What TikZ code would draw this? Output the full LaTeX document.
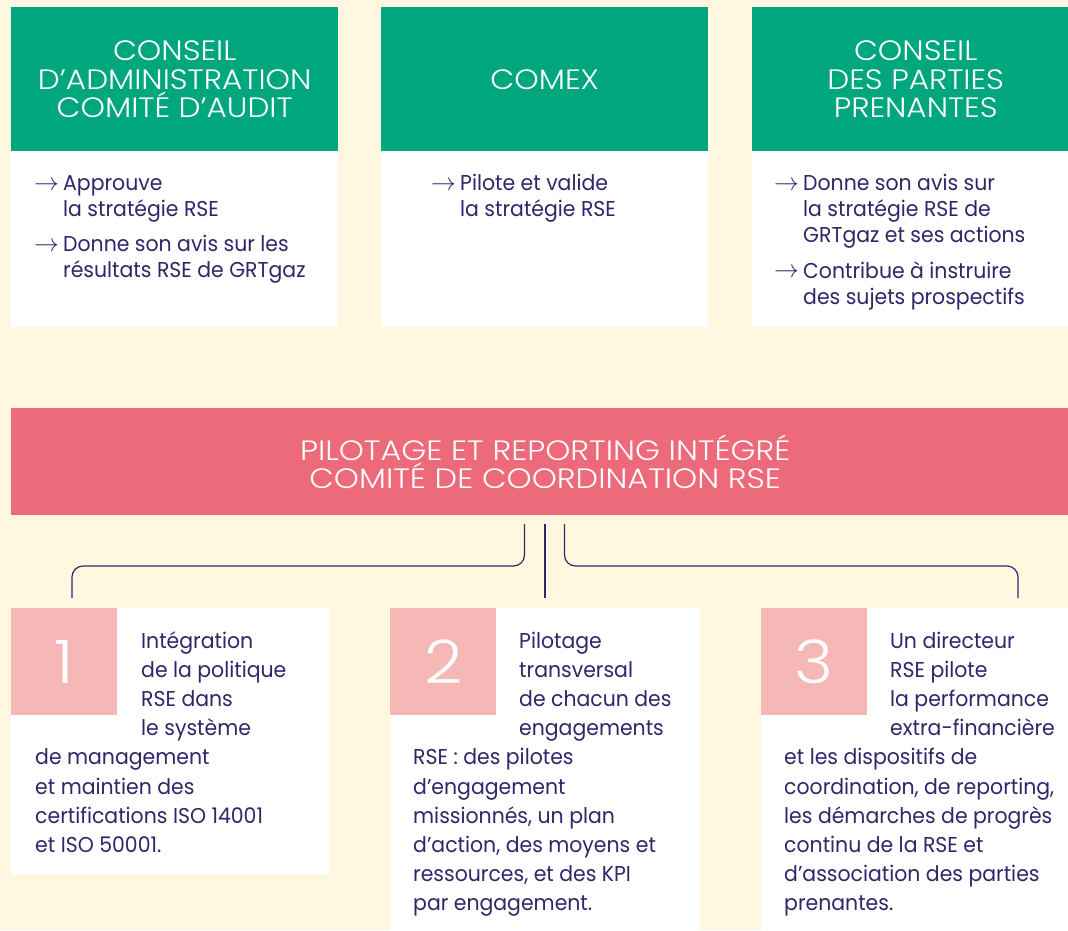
\documentclass[tikz,border=0pt]{standalone}
\usepackage{fontspec}
\setmainfont{Poppins}[FakeStretch=0.95]
\newfontfamily\headfont{Poppins Light}[FakeStretch=1.11]
\newfontfamily\bandfont{Poppins Light}[FakeStretch=1.14]

\definecolor{cream}{RGB}{255,247,224}
\definecolor{grtgreen}{RGB}{0,166,126}
\definecolor{bandpink}{RGB}{236,106,122}
\definecolor{numpink}{RGB}{246,184,182}
\definecolor{navy}{RGB}{45,40,105}

\tikzset{
  head/.style={fill=grtgreen, text=white, anchor=north west, inner sep=0pt,
    minimum width=327pt, minimum height=144pt, align=center,
    font=\headfont\fontsize{28}{28.3}\selectfont},
  panel/.style={fill=white, anchor=north west, inner sep=0pt},
  arrowtxt/.style={anchor=base west, inner sep=0pt, text=navy,
    font=\fontsize{27}{26}\selectfont},
  itemtxt/.style={anchor=base west, inner sep=0pt, align=left, text=navy,
    font=\fontsize{21.5}{26}\selectfont},
  bodytxt/.style={anchor=base west, inner sep=0pt, align=left, text=navy,
    font=\fontsize{21.5}{29.2}\selectfont},
  numsq/.style={fill=numpink, text=white, anchor=north west, inner sep=0pt,
    minimum width=106pt, minimum height=107pt,
    font=\headfont\fontsize{60}{60}\selectfont},
  link/.style={draw=navy, line width=1.2pt, rounded corners=11pt}
}

\begin{document}
\begin{tikzpicture}[x=1pt,y=-1pt]

  \fill[cream] (0,0) rectangle (1068,930);
  \useasboundingbox (0,0) rectangle (1068,930);
  \clip (0,0) rectangle (1068,930);

  % top row
  \node[head] (ca) at (11,7) {CONSEIL\\D’ADMINISTRATION\\COMITÉ D’AUDIT};
  \node[head] (comex) at (381,7) {COMEX};
  \node[head] (cpp) at (752,7) {CONSEIL\\DES PARTIES\\PRENANTES};

  \node[panel, minimum width=327pt, minimum height=176pt] (cab) at (11,151) {};
  \node[panel, minimum width=327pt, minimum height=176pt] (comexb) at (381,151) {};
  \node[panel, minimum width=327pt, minimum height=176pt] (cppb) at (752,151) {};

  % base anchor of a multi-line node = its last line
  \node[arrowtxt] (ca1a) at (34,190.7) {$\rightarrow$};
  \node[itemtxt] (ca1) at (63,216.7) {Approuve\\la stratégie RSE};
  \node[arrowtxt] (ca2a) at (34,251) {$\rightarrow$};
  \node[itemtxt] (ca2) at (63,277) {Donne son avis sur les\\résultats RSE de GRTgaz};

  \node[arrowtxt] (cx1a) at (431,190.7) {$\rightarrow$};
  \node[itemtxt] (cx1) at (460,216.7) {Pilote et valide\\la stratégie RSE};

  \node[arrowtxt] (cp1a) at (774,190.7) {$\rightarrow$};
  \node[itemtxt] (cp1) at (803,242.7) {Donne son avis sur\\la stratégie RSE de\\GRTgaz et ses actions};
  \node[arrowtxt] (cp2a) at (774,277.7) {$\rightarrow$};
  \node[itemtxt] (cp2) at (803,304) {Contribue à instruire\\des sujets prospectifs};

  % band
  \node[fill=bandpink, text=white, anchor=north west, inner sep=0pt,
    minimum width=1068pt, minimum height=107pt, align=center,
    font=\bandfont\fontsize{28}{28.3}\selectfont] (band) at (11,408)
    {PILOTAGE ET REPORTING INTÉGRÉ\\COMITÉ DE COORDINATION RSE};

  % bottom row
  \node[panel, minimum width=318pt, minimum height=267pt] (box1) at (11,608) {};
  \node[panel, minimum width=310pt, minimum height=330pt] (box2) at (390,608) {};
  \node[panel, minimum width=310pt, minimum height=330pt] (box3) at (761,608) {};

  \node[numsq] (num1) at (11,608) {1};
  \node[numsq] (num2) at (390,608) {2};
  \node[numsq] (num3) at (761,608) {3};

  \node[bodytxt] (t1a) at (141,735.6) {Intégration\\de la politique\\RSE dans\\le système};
  \node[bodytxt] (t1b) at (35,852.4) {de management\\et maintien des\\certifications ISO 14001\\et ISO 50001.};

  \node[bodytxt] (t2a) at (519,735.6) {Pilotage\\transversal\\de chacun des\\engagements};
  \node[bodytxt] (t2b) at (413,910.8) {RSE : des pilotes\\d’engagement\\missionnés, un plan\\d’action, des moyens et\\ressources, et des KPI\\par engagement.};

  \node[bodytxt] (t3a) at (890,735.6) {Un directeur\\RSE pilote\\la performance\\extra-financière};
  \node[bodytxt] (t3b) at (784,910.8) {et les dispositifs de\\coordination, de reporting,\\les démarches de progrès\\continu de la RSE et\\d’association des parties\\prenantes.};

  % connectors
  \coordinate (bar) at (0,566);
  \coordinate (s1) at (524.5,524);
  \coordinate (s2) at (545,524);
  \coordinate (s3) at (564.5,524);
  \coordinate (e1) at (72,598);
  \coordinate (e2) at (545,598);
  \coordinate (e3) at (1018,598);

  \draw[link] (s1) -- (s1 |- bar) -- (e1 |- bar) -- (e1);
  \draw[link] (s2) -- (e2);
  \draw[link] (s3) -- (s3 |- bar) -- (e3 |- bar) -- (e3);

\end{tikzpicture}
\end{document}
